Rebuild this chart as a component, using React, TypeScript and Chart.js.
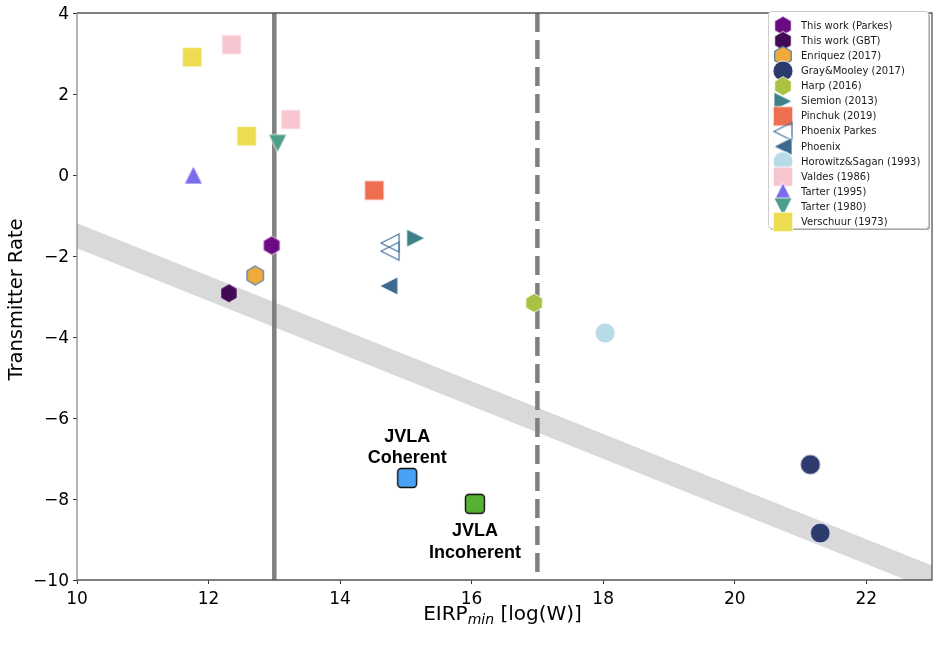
import React, { useEffect, useRef } from 'react';
import { Chart, registerables } from 'chart.js';

Chart.register(...registerables);

// ---- data: EIRP_min [log(W)] vs transmitter rate ----
const parkesX = [12.96];
const parkesY = [-1.74];
const gbtX = [12.31];
const gbtY = [-2.92];
const enriquezX = [12.71];
const enriquezY = [-2.48];
const grayMooleyX = [21.15, 21.3];
const grayMooleyY = [-7.15, -8.84];
const harpX = [16.95];
const harpY = [-3.16];
const siemionX = [15.15];
const siemionY = [-1.56];
const pinchukX = [14.52];
const pinchukY = [-0.38];
const phoenixParkesX = [14.76, 14.76];
const phoenixParkesY = [-1.68, -1.88];
const phoenixX = [14.74];
const phoenixY = [-2.74];
const horowitzX = [18.03];
const horowitzY = [-3.9];
const valdesX = [12.35, 13.25];
const valdesY = [3.22, 1.37];
const tarter1995X = [11.77];
const tarter1995Y = [0.0];
const tarter1980X = [13.05];
const tarter1980Y = [0.78];
const verschuurX = [11.75, 12.58];
const verschuurY = [2.91, 0.96];
const jvlaCoherentX = [15.02];
const jvlaCoherentY = [-7.48];
const jvlaIncoherentX = [16.05];
const jvlaIncoherentY = [-8.12];

// shaded trend band and the two EIRP limits
const bandX = [8, 25];
const bandY = [-0.2, -11.25];
const solidLimitX = 13;
const dashedLimitX = 17;

const xTicks = [10, 12, 14, 16, 18, 20, 22];
const yTicks = [-10, -8, -6, -4, -2, 0, 2, 4];

const FONT = "'DejaVu Sans', sans-serif";

type Shape = 'square' | 'roundSquare' | 'hexagon' | 'circle' | 'triUp' | 'triDown' | 'triLeft' | 'triRight';

function makeMarker(shape: Shape, size: number, fill: string | null, stroke: string | null, lineWidth: number): HTMLCanvasElement {
  const dim = 30;
  const c = document.createElement('canvas');
  c.width = dim;
  c.height = dim;
  const ctx = c.getContext('2d')!;
  const cx = dim / 2;
  const cy = dim / 2;
  const h = size / 2;
  ctx.beginPath();
  switch (shape) {
    case 'square':
      ctx.rect(cx - h, cy - h, size, size);
      break;
    case 'roundSquare': {
      const r = 3.5;
      ctx.moveTo(cx - h + r, cy - h);
      ctx.arcTo(cx + h, cy - h, cx + h, cy + h, r);
      ctx.arcTo(cx + h, cy + h, cx - h, cy + h, r);
      ctx.arcTo(cx - h, cy + h, cx - h, cy - h, r);
      ctx.arcTo(cx - h, cy - h, cx + h, cy - h, r);
      ctx.closePath();
      break;
    }
    case 'hexagon':
      for (let k = 0; k < 6; k++) {
        const a = (-90 + 60 * k) * Math.PI / 180;
        const px = cx + h * Math.cos(a);
        const py = cy + h * Math.sin(a);
        if (k === 0) ctx.moveTo(px, py); else ctx.lineTo(px, py);
      }
      ctx.closePath();
      break;
    case 'circle':
      ctx.arc(cx, cy, h, 0, Math.PI * 2);
      break;
    case 'triUp':
      ctx.moveTo(cx, cy - h);
      ctx.lineTo(cx + h, cy + h);
      ctx.lineTo(cx - h, cy + h);
      ctx.closePath();
      break;
    case 'triDown':
      ctx.moveTo(cx, cy + h);
      ctx.lineTo(cx + h, cy - h);
      ctx.lineTo(cx - h, cy - h);
      ctx.closePath();
      break;
    case 'triLeft':
      ctx.moveTo(cx - h, cy);
      ctx.lineTo(cx + h, cy - h);
      ctx.lineTo(cx + h, cy + h);
      ctx.closePath();
      break;
    case 'triRight':
      ctx.moveTo(cx + h, cy);
      ctx.lineTo(cx - h, cy - h);
      ctx.lineTo(cx - h, cy + h);
      ctx.closePath();
      break;
  }
  if (fill) {
    ctx.fillStyle = fill;
    ctx.fill();
  }
  if (stroke) {
    ctx.strokeStyle = stroke;
    ctx.lineWidth = lineWidth;
    ctx.lineJoin = 'miter';
    ctx.stroke();
  }
  return c;
}

interface Series {
  label: string;
  xs: number[];
  ys: number[];
  shape: Shape;
  size: number;
  fill: string | null;
  stroke: string | null;
  lw: number;
  inLegend: boolean;
}

const series: Series[] = [
  { label: 'This work (Parkes)', xs: parkesX, ys: parkesY, shape: 'hexagon', size: 19, fill: '#6a0b83', stroke: '#ffffff', lw: 0.8, inLegend: true },
  { label: 'This work (GBT)', xs: gbtX, ys: gbtY, shape: 'hexagon', size: 19, fill: '#420a55', stroke: '#ffffff', lw: 0.8, inLegend: true },
  { label: 'Enriquez (2017)', xs: enriquezX, ys: enriquezY, shape: 'hexagon', size: 19, fill: '#f2a93b', stroke: '#4f7fa8', lw: 1.2, inLegend: true },
  { label: 'Gray&Mooley (2017)', xs: grayMooleyX, ys: grayMooleyY, shape: 'circle', size: 20, fill: '#2d3a6e', stroke: '#ffffff', lw: 0.8, inLegend: true },
  { label: 'Harp (2016)', xs: harpX, ys: harpY, shape: 'hexagon', size: 19, fill: '#a9c244', stroke: '#ffffff', lw: 0.8, inLegend: true },
  { label: 'Siemion (2013)', xs: siemionX, ys: siemionY, shape: 'triRight', size: 18, fill: '#3c8089', stroke: '#ffffff', lw: 0.8, inLegend: true },
  { label: 'Pinchuk (2019)', xs: pinchukX, ys: pinchukY, shape: 'square', size: 19.5, fill: '#ee6e50', stroke: '#ffffff', lw: 0.8, inLegend: true },
  { label: 'Phoenix Parkes', xs: phoenixParkesX, ys: phoenixParkesY, shape: 'triLeft', size: 18, fill: null, stroke: '#4e79a5', lw: 1.3, inLegend: true },
  { label: 'Phoenix', xs: phoenixX, ys: phoenixY, shape: 'triLeft', size: 18, fill: '#3d6890', stroke: '#ffffff', lw: 0.8, inLegend: true },
  { label: 'Horowitz&Sagan (1993)', xs: horowitzX, ys: horowitzY, shape: 'circle', size: 20, fill: '#b8dbe8', stroke: '#ffffff', lw: 0.8, inLegend: true },
  { label: 'Valdes (1986)', xs: valdesX, ys: valdesY, shape: 'square', size: 19.5, fill: '#f7c6d0', stroke: '#ffffff', lw: 0.8, inLegend: true },
  { label: 'Tarter (1995)', xs: tarter1995X, ys: tarter1995Y, shape: 'triUp', size: 18, fill: '#7b6cec', stroke: '#ffffff', lw: 0.8, inLegend: true },
  { label: 'Tarter (1980)', xs: tarter1980X, ys: tarter1980Y, shape: 'triDown', size: 18, fill: '#4b9e89', stroke: '#ffffff', lw: 0.8, inLegend: true },
  { label: 'Verschuur (1973)', xs: verschuurX, ys: verschuurY, shape: 'square', size: 19.5, fill: '#ecdc50', stroke: '#ffffff', lw: 0.8, inLegend: true },
  { label: 'JVLA Coherent', xs: jvlaCoherentX, ys: jvlaCoherentY, shape: 'roundSquare', size: 19, fill: '#4aa0f5', stroke: '#111111', lw: 1.4, inLegend: false },
  { label: 'JVLA Incoherent', xs: jvlaIncoherentX, ys: jvlaIncoherentY, shape: 'roundSquare', size: 19, fill: '#55b033', stroke: '#111111', lw: 1.4, inLegend: false },
];

// point annotations for the JVLA modes
const jvlaLabels = [
  { x: jvlaCoherentX[0], y: jvlaCoherentY[0], lines: ['JVLA', 'Coherent'], dy: [-41, -20] },
  { x: jvlaIncoherentX[0], y: jvlaIncoherentY[0], lines: ['JVLA', 'Incoherent'], dy: [27, 49] },
];

export default function App() {
  const canvasRef = useRef<HTMLCanvasElement | null>(null);

  useEffect(() => {
    const canvas = canvasRef.current;
    if (!canvas) return;

    const markers = series.map((s) => makeMarker(s.shape, s.size, s.fill, s.stroke, s.lw));

    const markerDatasets = series.map((s, i) => ({
      type: 'scatter' as const,
      label: s.label,
      data: s.xs.map((x, j) => ({ x, y: s.ys[j] })),
      pointStyle: markers[i],
      pointRadius: 10,
      pointHoverRadius: 10,
      showLine: false,
      order: 0,
    }));

    const overlayPlugin = {
      id: 'overlay',
      afterDatasetsDraw(chart: Chart) {
        const ctx = chart.ctx;
        const xs = chart.scales.x;
        const ys = chart.scales.y;
        ctx.save();
        ctx.fillStyle = '#000000';
        ctx.font = "bold 18px 'Liberation Sans', Arial, sans-serif";
        ctx.textAlign = 'center';
        ctx.textBaseline = 'middle';
        for (const lab of jvlaLabels) {
          const px = xs.getPixelForValue(lab.x);
          const py = ys.getPixelForValue(lab.y);
          lab.lines.forEach((t, k) => ctx.fillText(t, px, py + lab.dy[k]));
        }
        ctx.restore();
      },
      afterDraw(chart: Chart) {
        const ctx = chart.ctx;
        const a = chart.chartArea;
        ctx.save();
        // axes frame
        ctx.lineWidth = 1.3;
        ctx.strokeStyle = '#555555';
        ctx.beginPath();
        ctx.moveTo(a.left, a.top);
        ctx.lineTo(a.right, a.top);
        ctx.lineTo(a.right, a.bottom);
        ctx.lineTo(a.left, a.bottom);
        ctx.stroke();
        ctx.strokeStyle = '#8a8a8a';
        ctx.beginPath();
        ctx.moveTo(a.left, a.top);
        ctx.lineTo(a.left, a.bottom);
        ctx.stroke();

        // axis titles
        ctx.fillStyle = '#000000';
        ctx.textBaseline = 'alphabetic';
        ctx.save();
        ctx.translate(22, (a.top + a.bottom) / 2 + 3);
        ctx.rotate(-Math.PI / 2);
        ctx.textAlign = 'center';
        ctx.font = `19.5px ${FONT}`;
        ctx.fillText('Transmitter Rate', 0, 0);
        ctx.restore();

        const mainFont = `20px ${FONT}`;
        const subFont = `italic 14px ${FONT}`;
        ctx.font = mainFont;
        const w1 = ctx.measureText('EIRP').width;
        const w3 = ctx.measureText(' [log(W)]').width;
        ctx.font = subFont;
        const w2 = ctx.measureText('min').width;
        const total = w1 + w2 + w3;
        let tx = (a.left + a.right) / 2 - total / 2 - 2;
        const base = 620;
        ctx.textAlign = 'left';
        ctx.font = mainFont;
        ctx.fillText('EIRP', tx, base);
        tx += w1;
        ctx.font = subFont;
        ctx.fillText('min', tx, base + 4);
        tx += w2;
        ctx.font = mainFont;
        ctx.fillText(' [log(W)]', tx, base);

        // legend
        const bx = 768;
        const by = 11;
        const bw = 160;
        const bh = 217;
        ctx.fillStyle = 'rgba(0,0,0,0.35)';
        ctx.beginPath();
        ctx.roundRect(bx + 2, by + 2, bw, bh, 3);
        ctx.fill();
        ctx.fillStyle = 'rgba(255,255,255,1)';
        ctx.strokeStyle = '#cccccc';
        ctx.lineWidth = 1;
        ctx.beginPath();
        ctx.roundRect(bx + 0.5, by + 0.5, bw, bh, 3);
        ctx.fill();
        ctx.stroke();

        const rowStart = 25.7;
        const rowStep = 15.1;
        ctx.font = `10px ${FONT}`;
        ctx.textBaseline = 'middle';
        ctx.fillStyle = '#1a1a1a';
        let row = 0;
        series.forEach((s, i) => {
          if (!s.inLegend) return;
          const cy = rowStart + row * rowStep;
          const m = markers[i];
          ctx.drawImage(m, 783 - m.width / 2, cy - m.height / 2);
          ctx.fillText(s.label, 801, cy + 0.5);
          row++;
        });
        ctx.restore();
      },
    };

    const chart = new Chart(canvas, {
      type: 'scatter',
      data: {
        datasets: [
          ...markerDatasets,
          {
            type: 'scatter' as const,
            label: 'band',
            data: bandX.map((x, j) => ({ x, y: bandY[j] })),
            showLine: true,
            borderColor: 'rgba(128,128,128,0.3)',
            borderWidth: 23,
            borderCapStyle: 'butt',
            pointRadius: 0,
            clip: 0,
            order: 1,
          },
          {
            type: 'scatter' as const,
            label: 'solid limit',
            data: [{ x: solidLimitX, y: 4 }, { x: solidLimitX, y: -10 }],
            showLine: true,
            borderColor: '#808080',
            borderWidth: 4.5,
            pointRadius: 0,
            clip: 0,
            order: 2,
          },
          {
            type: 'scatter' as const,
            label: 'dashed limit',
            data: [{ x: dashedLimitX, y: 4 }, { x: dashedLimitX, y: -10 }],
            showLine: true,
            borderColor: '#808080',
            borderWidth: 4.5,
            borderDash: [19, 8],
            pointRadius: 0,
            clip: 0,
            order: 2,
          },
        ],
      } as any,
      options: {
        responsive: false,
        animation: false,
        events: [],
        layout: { autoPadding: false, padding: { top: 13, right: 7, left: 0, bottom: 0 } },
        plugins: {
          legend: { display: false },
          tooltip: { enabled: false },
        },
        scales: {
          x: {
            type: 'linear',
            min: 10,
            max: 23,
            afterFit: (s: any) => { s.height = 76; s.paddingRight = 0; s.paddingLeft = 0; },
            afterBuildTicks: (s: any) => { s.ticks = xTicks.map((v) => ({ value: v })); },
            ticks: {
              font: { family: FONT, size: 17 },
              color: '#000000',
              padding: 5,
              maxRotation: 0,
            },
            grid: { display: true, drawOnChartArea: false, drawTicks: true, tickLength: 4, tickColor: '#333333' },
            border: { display: false },
          },
          y: {
            type: 'linear',
            min: -10,
            max: 4,
            afterFit: (s: any) => { s.width = 77; s.paddingTop = 0; s.paddingBottom = 0; },
            afterBuildTicks: (s: any) => { s.ticks = yTicks.map((v) => ({ value: v })); },
            ticks: {
              font: { family: FONT, size: 17 },
              color: '#000000',
              padding: 4,
              labelOffset: 1.5,
              callback: (v: any) => (Number(v) < 0 ? '\u2212' + Math.abs(Number(v)) : String(v)),
            },
            grid: { display: true, drawOnChartArea: false, drawTicks: true, tickLength: 4, tickColor: '#333333' },
            border: { display: false },
          },
        },
      } as any,
      plugins: [overlayPlugin],
    });

    return () => chart.destroy();
  }, []);

  return (
    <div style={{ position: 'fixed', left: 0, top: 0, width: 939, height: 656, background: '#ffffff' }}>
      <canvas ref={canvasRef} width={939} height={656} style={{ display: 'block', width: 939, height: 656 }} />
    </div>
  );
}
